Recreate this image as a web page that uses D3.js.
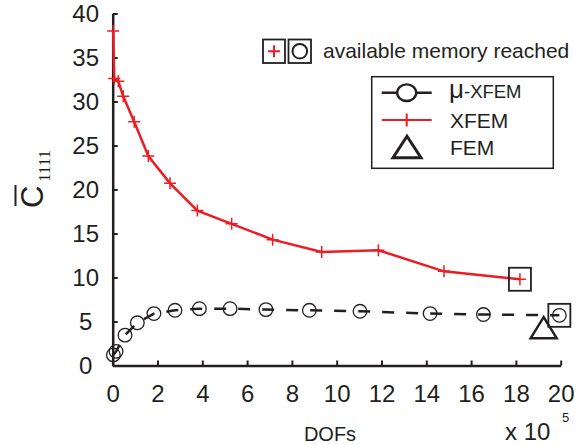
<!DOCTYPE html>
<html><head><meta charset="utf-8">
<script src="https://cdn.jsdelivr.net/npm/d3@7"></script>
<style>body{margin:0;background:#fff}svg{display:block}</style>
</head><body>
<svg id="c" width="578" height="445"></svg>
<script>
// Data (DOFs in units of 1e5)
const xfemX = [0.02, 0.07, 0.25, 0.47, 0.96, 1.59, 2.56, 3.78, 5.31, 7.14, 9.33, 11.86, 14.79, 18.18];
const xfemY = [38.0, 32.6, 32.3, 30.6, 27.7, 23.8, 20.7, 17.6, 16.1, 14.3, 12.9, 13.1, 10.7, 9.8];
const muX = [0.03, 0.15, 0.55, 1.1, 1.84, 2.78, 3.87, 5.24, 6.84, 8.78, 11.04, 14.17, 16.55, 19.94];
const muY = [1.2, 1.6, 3.45, 4.85, 5.9, 6.27, 6.46, 6.46, 6.35, 6.27, 6.16, 5.9, 5.79, 5.7];
const femX = [19.24];
const femY = [4.3];
const xTicks = [0, 2, 4, 6, 8, 10, 12, 14, 16, 18, 20];
const yTicks = [0, 5, 10, 15, 20, 25, 30, 35, 40];
const legendLabels = ["μ-XFEM", "XFEM", "FEM"];

const BLACK = "#231f20", RED = "#ed1c24", FONT = "'Liberation Sans', Arial, sans-serif";
const svg = d3.select("#c");
const x = d3.scaleLinear().domain([0, 20]).range([112.7, 560.7]);
const y = d3.scaleLinear().domain([0, 40]).range([365.5, 13.5]);

// Axes
const gx = svg.append("g").attr("transform", `translate(0,${y(0)})`)
  .call(d3.axisBottom(x).tickValues(xTicks).tickSizeInner(-5).tickSizeOuter(0).tickPadding(19).tickFormat(d3.format("d")));
const gy = svg.append("g").attr("transform", `translate(${x(0)},0)`)
  .call(d3.axisLeft(y).tickValues(yTicks).tickSizeInner(-5).tickSizeOuter(0).tickFormat(d3.format("d")));
[gx, gy].forEach(g => {
  g.select(".domain").attr("stroke", BLACK).attr("stroke-width", 2.5);
  g.selectAll(".tick line").attr("stroke", BLACK).attr("stroke-width", 2);
  g.selectAll(".tick text").attr("fill", BLACK).style("font-family", FONT).style("font-size", "24px");
});
gy.selectAll(".tick text").attr("x", -27).attr("text-anchor", "middle");

// Lines
const line = d3.line().x(d => x(d[0])).y(d => y(d[1]));
const muData = muX.map((v, i) => [v, muY[i]]);
const xfData = xfemX.map((v, i) => [v, xfemY[i]]);
svg.append("path").datum(muData).attr("d", line).attr("fill", "none")
  .attr("stroke", BLACK).attr("stroke-width", 2.5).attr("stroke-dasharray", "12,12");
svg.append("path").datum(xfData).attr("d", line).attr("fill", "none")
  .attr("stroke", RED).attr("stroke-width", 2.5);

// Markers
svg.selectAll(".mu").data(muData).enter().append("circle")
  .attr("cx", d => x(d[0])).attr("cy", d => y(d[1])).attr("r", 6.8)
  .attr("fill", "none").attr("stroke", BLACK).attr("stroke-width", 1.3);
const plus = s => `M${-s},0H${s}M0,${-s}V${s}`;
svg.selectAll(".xf").data(xfData).enter().append("path")
  .attr("transform", d => `translate(${x(d[0])},${y(d[1])})`)
  .attr("d", plus(6)).attr("stroke", RED).attr("stroke-width", 1.5);
const tri = (w, h) => `M0,${-h/2}L${w/2},${h/2}L${-w/2},${h/2}Z`;
svg.selectAll(".fem").data(femX.map((v, i) => [v, femY[i]])).enter().append("path")
  .attr("transform", d => `translate(${x(d[0])},${y(d[1])})`)
  .attr("d", tri(26, 21)).attr("fill", "none").attr("stroke", BLACK).attr("stroke-width", 2.5).attr("stroke-linejoin", "miter");

// Boxes around last points (memory reached)
[xfData[xfData.length - 1], muData[muData.length - 1]].forEach(d => {
  svg.append("rect").attr("x", x(d[0]) - 11).attr("y", y(d[1]) - 11.5).attr("width", 22).attr("height", 23)
    .attr("fill", "none").attr("stroke", BLACK).attr("stroke-width", 1.8);
});

// Annotation
svg.append("rect").attr("x", 263).attr("y", 39.5).attr("width", 22).attr("height", 23.5).attr("fill", "none").attr("stroke", BLACK).attr("stroke-width", 1.8);
svg.append("path").attr("transform", "translate(274,51.2)").attr("d", plus(6)).attr("stroke", RED).attr("stroke-width", 2);
svg.append("rect").attr("x", 288.5).attr("y", 39.5).attr("width", 22.5).attr("height", 23.5).attr("fill", "none").attr("stroke", BLACK).attr("stroke-width", 1.8);
svg.append("circle").attr("cx", 299.8).attr("cy", 51.2).attr("r", 7.3).attr("fill", "none").attr("stroke", BLACK).attr("stroke-width", 2);
svg.append("text").attr("x", 323).attr("y", 58.3).attr("fill", BLACK).style("font-family", FONT).style("font-size", "21px")
  .text("available memory reached");

// Legend
const lg = svg.append("g");
lg.append("rect").attr("x", 371.7).attr("y", 76.7).attr("width", 181.6).attr("height", 91.6)
  .attr("fill", "#fff").attr("stroke", BLACK).attr("stroke-width", 1.5);
const rows = [92.7, 120, 147];
lg.append("line").attr("x1", 381.7).attr("x2", 431.7).attr("y1", rows[0]).attr("y2", rows[0]).attr("stroke", BLACK).attr("stroke-width", 2.5);
lg.append("ellipse").attr("cx", 406.7).attr("cy", rows[0]).attr("rx", 9.5).attr("ry", 8.3).attr("fill", "#fff").attr("stroke", BLACK).attr("stroke-width", 2.3);
lg.append("line").attr("x1", 381.7).attr("x2", 431.7).attr("y1", rows[1]).attr("y2", rows[1]).attr("stroke", RED).attr("stroke-width", 2);
lg.append("path").attr("transform", `translate(406.7,${rows[1]})`).attr("d", plus(6.5)).attr("stroke", RED).attr("stroke-width", 2);
lg.append("path").attr("transform", `translate(407,${rows[2]})`).attr("d", tri(28, 21.5)).attr("fill", "none").attr("stroke", BLACK).attr("stroke-width", 3);
const t0 = lg.append("text").attr("x", 449).attr("y", 98.3).attr("fill", BLACK).style("font-family", FONT);
t0.append("tspan").style("font-size", "26px").text(legendLabels[0].slice(0, 1));
t0.append("tspan").style("font-size", "18.5px").text(legendLabels[0].slice(1));
lg.append("text").attr("x", 450).attr("y", 128.3).attr("fill", BLACK).style("font-family", FONT).style("font-size", "21px").text(legendLabels[1]);
lg.append("text").attr("x", 450).attr("y", 155).attr("fill", BLACK).style("font-family", FONT).style("font-size", "21px").text(legendLabels[2]);

// Axis labels
svg.append("text").attr("x", 330).attr("y", 441).attr("text-anchor", "middle").attr("fill", BLACK)
  .style("font-family", FONT).style("font-size", "20px").text("DOFs");
const xl = svg.append("text").attr("x", 505).attr("y", 440).attr("fill", BLACK).style("font-family", FONT).style("font-size", "24px");
xl.append("tspan").text("x 10");
svg.append("text").attr("x", 562).attr("y", 422).attr("fill", BLACK).style("font-family", FONT).style("font-size", "13px").text("5");

// Y label: C-bar with subscript 1111, rotated
const yl = svg.append("g").attr("transform", "translate(43,208) rotate(-90)");
yl.append("text").attr("x", 0).attr("y", 0).attr("fill", BLACK).style("font-family", FONT).style("font-size", "31px").text("C");
yl.append("line").attr("x1", 2).attr("x2", 23).attr("y1", -27.5).attr("y2", -27.5).attr("stroke", BLACK).attr("stroke-width", 2);
yl.append("text").attr("x", 26).attr("y", 7).attr("fill", BLACK).style("font-family", "'Liberation Serif', 'Times New Roman', serif").style("font-size", "17px").text("1111");
</script>
</body></html>
